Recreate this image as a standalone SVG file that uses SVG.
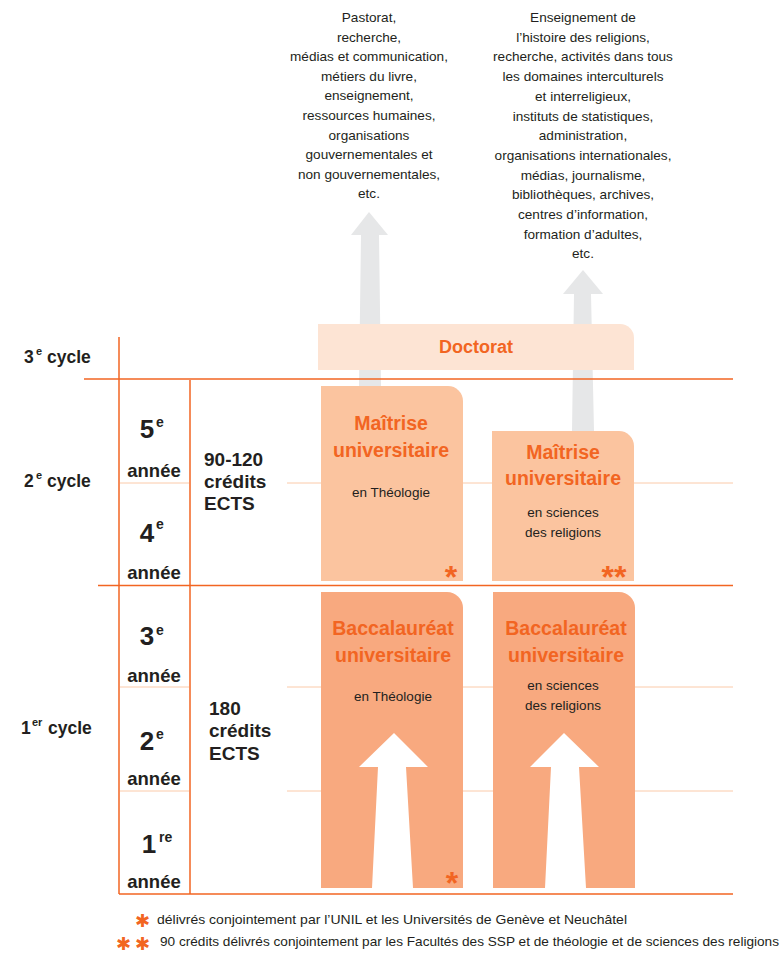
<svg xmlns="http://www.w3.org/2000/svg" width="784" height="957" viewBox="0 0 784 957">
<style>
text{font-family:"Liberation Sans",Arial,sans-serif;fill:#231f20}
.top{font-size:13.6px;text-anchor:middle}
.lbl{font-size:17.5px;font-weight:bold}
.sup{font-size:11px;font-weight:bold}
.yr{font-size:26px;font-weight:bold;text-anchor:middle}
.ysup{font-size:14px;font-weight:bold}
.an{font-size:18.5px;font-weight:bold;text-anchor:middle}
.ects{font-size:19px;font-weight:bold}
.title{font-size:19.5px;font-weight:bold;fill:#f26522;text-anchor:middle}
.sub{font-size:13.5px;text-anchor:middle}
.star{font-size:32px;font-weight:bold;fill:#f26522;text-anchor:middle}
.fstar{font-family:"DejaVu Sans",sans-serif;font-size:18px;font-weight:bold;fill:#f26522}
.fn{font-size:13px}
.ln{stroke:#f26522;stroke-width:1.5;fill:none}
.lt{stroke:#fbcaa9;stroke-width:1;fill:none}
.grey{fill:#e6e7e8}
.wh{fill:#ffffff}
</style>

<g id="outcomes">
<text class="top" x="369" y="22">Pastorat,</text>
<text class="top" x="369" y="41.6">recherche,</text>
<text class="top" x="369" y="61.2">médias et communication,</text>
<text class="top" x="369" y="80.8">métiers du livre,</text>
<text class="top" x="369" y="100.4">enseignement,</text>
<text class="top" x="369" y="120">ressources humaines,</text>
<text class="top" x="369" y="139.6">organisations</text>
<text class="top" x="369" y="159.2">gouvernementales et</text>
<text class="top" x="369" y="178.8">non gouvernementales,</text>
<text class="top" x="369" y="198.4">etc.</text>
<text class="top" x="583" y="22">Enseignement de</text>
<text class="top" x="583" y="41.7">l’histoire des religions,</text>
<text class="top" x="583" y="61.4">recherche, activités dans tous</text>
<text class="top" x="583" y="81.1">les domaines interculturels</text>
<text class="top" x="583" y="100.8">et interreligieux,</text>
<text class="top" x="583" y="120.5">instituts de statistiques,</text>
<text class="top" x="583" y="140.2">administration,</text>
<text class="top" x="583" y="159.9">organisations internationales,</text>
<text class="top" x="583" y="179.6">médias, journalisme,</text>
<text class="top" x="583" y="199.3">bibliothèques, archives,</text>
<text class="top" x="583" y="219">centres d’information,</text>
<text class="top" x="583" y="238.7">formation d’adultes,</text>
<text class="top" x="583" y="258.4">etc.</text>
</g>

<g id="connectors">
<polygon class="grey" points="369,212 351,235 361,235 359,386 381,386 379,235 388,235"/>
<polygon class="grey" points="583,270 563,294 574,294 572,431 594,431 591,294 603,294"/>
</g>

<g id="grid">
<line class="lt" x1="120" y1="483" x2="189" y2="483"/>
<line class="lt" x1="287" y1="483" x2="733" y2="483"/>
<line class="lt" x1="120" y1="687" x2="189" y2="687"/>
<line class="lt" x1="287" y1="687" x2="733" y2="687"/>
<line class="lt" x1="120" y1="791" x2="189" y2="791"/>
<line class="lt" x1="287" y1="791" x2="733" y2="791"/>
<line class="ln" x1="84" y1="379" x2="733" y2="379"/>
<line class="ln" x1="98" y1="585.5" x2="733" y2="585.5"/>
<line class="ln" x1="119" y1="894" x2="733" y2="894"/>
<line class="ln" x1="119" y1="337" x2="119" y2="894"/>
<line class="ln" x1="190" y1="380" x2="190" y2="894"/>
</g>

<g id="labels">
<text class="lbl" x="24" y="363">3</text><text class="sup" x="36" y="355">e</text><text class="lbl" x="47" y="363">cycle</text>
<text class="lbl" x="24" y="487">2</text><text class="sup" x="36" y="479">e</text><text class="lbl" x="47" y="487">cycle</text>
<text class="lbl" x="21" y="734">1</text><text class="sup" x="32" y="726">er</text><text class="lbl" x="48" y="734">cycle</text>
<text class="yr" x="147" y="438">5</text><text class="ysup" x="156" y="427">e</text><text class="an" x="154" y="477">année</text>
<text class="yr" x="147" y="542">4</text><text class="ysup" x="156" y="529">e</text><text class="an" x="154" y="579">année</text>
<text class="yr" x="147" y="645">3</text><text class="ysup" x="156" y="635">e</text><text class="an" x="154" y="682">année</text>
<text class="yr" x="147" y="750">2</text><text class="ysup" x="156" y="739">e</text><text class="an" x="154" y="785">année</text>
<text class="yr" x="149" y="853">1</text><text class="ysup" x="159" y="842">re</text><text class="an" x="154" y="888">année</text>
<text class="ects" x="204" y="466">90-120</text><text class="ects" x="204" y="488">crédits</text><text class="ects" x="204" y="510">ECTS</text>
<text class="ects" x="209" y="715">180</text><text class="ects" x="209" y="737">crédits</text><text class="ects" x="209" y="760">ECTS</text>
</g>

<g id="doctorat">
<path d="M318,324 H620 A14,14 0 0 1 634,338 V370 H318 Z" fill="#fde4d4"/>
<text class="title" x="476" y="353" style="font-size:18px">Doctorat</text>
</g>

<g id="maitrise-theologie">
<path d="M321,386 H448 A15,15 0 0 1 463,401 V581 H321 Z" fill="#fbc49f"/>
<text class="title" x="391" y="430">Maîtrise</text>
<text class="title" x="391" y="457">universitaire</text>
<text class="sub" x="391" y="497">en Théologie</text>
<text class="star" x="451" y="588">*</text>
</g>

<g id="maitrise-sciences">
<path d="M492,431 H619 A15,15 0 0 1 634,446 V581 H492 Z" fill="#fbc49f"/>
<text class="title" x="563" y="459">Maîtrise</text>
<text class="title" x="563" y="485">universitaire</text>
<text class="sub" x="563" y="517">en sciences</text>
<text class="sub" x="563" y="537">des religions</text>
<text class="star" x="614" y="588">**</text>
</g>

<g id="bachelor-theologie">
<path d="M321,592 H447 A16,16 0 0 1 463,608 V888 H321 Z" fill="#f8a97f"/>
<polygon class="wh" points="394,733 359,767 378,767 372,888 413,888 406,767 428,767"/>
<text class="title" x="393" y="635">Baccalauréat</text>
<text class="title" x="393" y="662">universitaire</text>
<text class="sub" x="393" y="701">en Théologie</text>
<text class="star" x="452" y="894">*</text>
</g>

<g id="bachelor-sciences">
<path d="M493,592 H619 A16,16 0 0 1 635,608 V888 H493 Z" fill="#f8a97f"/>
<polygon class="wh" points="564,733 530,767 551,767 545,888 586,888 579,767 599,767"/>
<text class="title" x="566" y="635">Baccalauréat</text>
<text class="title" x="566" y="662">universitaire</text>
<text class="sub" x="563" y="690">en sciences</text>
<text class="sub" x="563" y="710">des religions</text>
</g>

<g id="footnotes">
<text class="fstar" x="135" y="927">✱</text>
<text class="fn" x="157" y="924" textLength="470" lengthAdjust="spacingAndGlyphs">délivrés conjointement par l’UNIL et les Universités de Genève et Neuchâtel</text>
<text class="fstar" x="116" y="950" textLength="34" lengthAdjust="spacing">✱✱</text>
<text class="fn" x="160" y="946" textLength="619" lengthAdjust="spacingAndGlyphs">90 crédits délivrés conjointement par les Facultés des SSP et de théologie et de sciences des religions</text>
</g>
</svg>
